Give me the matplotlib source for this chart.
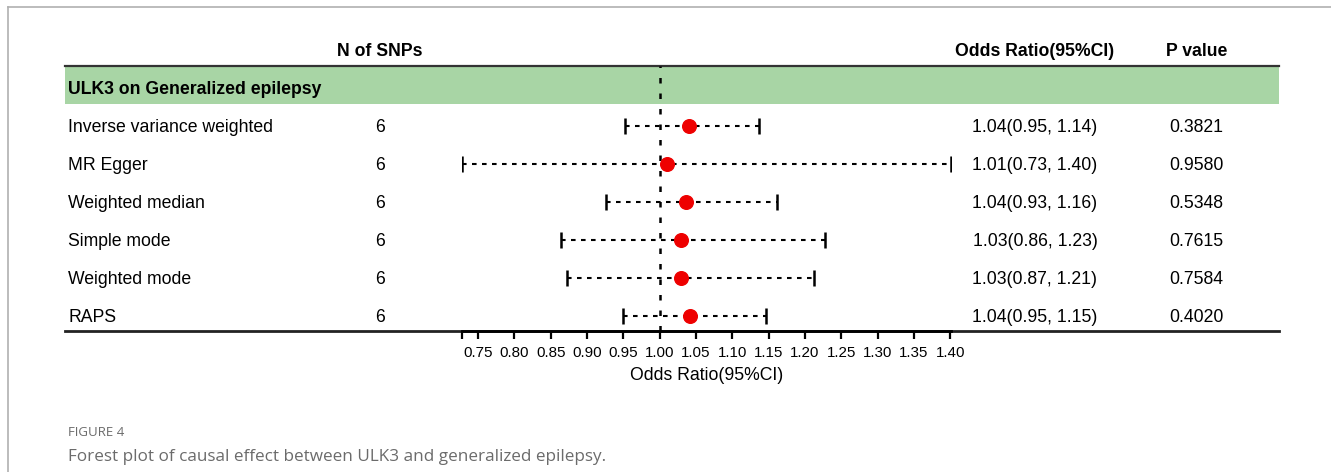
#!/usr/bin/env python3
import matplotlib

matplotlib.use("Agg")
import matplotlib.pyplot as plt
from matplotlib.lines import Line2D

# --- data ---
methods = [
    "Inverse variance weighted",
    "MR Egger",
    "Weighted median",
    "Simple mode",
    "Weighted mode",
    "RAPS",
]
n_snps = [6, 6, 6, 6, 6, 6]
or_est = [1.041, 1.010, 1.036, 1.030, 1.029, 1.042]
ci_low = [0.953, 0.728, 0.926, 0.864, 0.873, 0.949]
ci_high = [1.137, 1.401, 1.161, 1.227, 1.213, 1.146]
or_text = [
    "1.04(0.95, 1.14)",
    "1.01(0.73, 1.40)",
    "1.04(0.93, 1.16)",
    "1.03(0.86, 1.23)",
    "1.03(0.87, 1.21)",
    "1.04(0.95, 1.15)",
]
p_text = ["0.3821", "0.9580", "0.5348", "0.7615", "0.7584", "0.4020"]
xticks = [0.75, 0.80, 0.85, 0.90, 0.95, 1.00, 1.05, 1.10, 1.15, 1.20, 1.25, 1.30, 1.35, 1.40]
group_label = "ULK3 on Generalized epilepsy"

W, H = 1331, 472
FONT = "Liberation Sans"
FS = 12.7
GREEN = "#a8d5a5"
VA = "center_baseline"

fig = plt.figure(figsize=(W / 100, H / 100), dpi=100)
fig.patch.set_facecolor("white")

# vertical extent shared by table and forest axes (pixels from top)
top_px, bot_px = 66, 331
row0_px, row_gap = 126, 38
ylim = (1 + (bot_px - row0_px) / row_gap, 1 - (row0_px - top_px) / row_gap)
ax_bottom = 1 - bot_px / H
ax_height = (bot_px - top_px) / H

# table axes spanning full width
tab = fig.add_axes([65 / W, ax_bottom, (1279 - 65) / W, ax_height])
tab.set_xlim(0, 1)
tab.set_ylim(*ylim)
tab.axis("off")

band_bottom = 1 + (104 - row0_px) / row_gap
tab.axhspan(ylim[1], band_bottom, color=GREEN, lw=0, zorder=0)
tab.axhline(ylim[1], color="#333333", lw=1.6, zorder=2, clip_on=False)
tab.axhline(ylim[0], color="#222222", lw=2.0, zorder=2, clip_on=False)

col_label, col_n, col_or, col_p = 0.0025, 0.2595, 0.799, 0.932
y_head = 1 + (49 - row0_px) / row_gap
y_group = 1 + (87 - row0_px) / row_gap

for x, s in [(col_n, "N of SNPs"), (col_or, "Odds Ratio(95%CI)"), (col_p, "P value")]:
    tab.text(x, y_head, s, ha="center", va=VA, fontsize=FS,
             fontweight="bold", family=FONT, clip_on=False)
tab.text(col_label, y_group, group_label, ha="left", va=VA, fontsize=FS,
         fontweight="bold", family=FONT)

rows = list(range(1, len(methods) + 1))
for y, m, n, o, p in zip(rows, methods, n_snps, or_text, p_text):
    tab.text(col_label, y, m, ha="left", va=VA, fontsize=FS, family=FONT)
    tab.text(col_n, y, str(n), ha="center", va=VA, fontsize=FS, family=FONT)
    tab.text(col_or, y, o, ha="center", va=VA, fontsize=FS, family=FONT)
    tab.text(col_p, y, p, ha="center", va=VA, fontsize=FS, family=FONT)

# forest axes
xmin, xmax = min(ci_low), max(ci_high)
left_px, right_px = 462, 951
ax = fig.add_axes([left_px / W, ax_bottom, (right_px - left_px) / W, ax_height])
ax.patch.set_alpha(0)
ax.set_xlim(xmin, xmax)
ax.set_ylim(*ylim)

ax.axvline(1.0, color="black", lw=1.8, ls=(0, (2.2, 4)), zorder=1)
ax.hlines(rows, ci_low, ci_high, colors="black", lw=1.5, linestyles=(0, (2.2, 2.6)), zorder=2)
ax.plot(ci_low, rows, ls="none", marker="|", ms=12, mew=1.8, color="black", zorder=3)
ax.plot(ci_high, rows, ls="none", marker="|", ms=12, mew=1.8, color="black", zorder=3)
ax.plot(or_est, rows, ls="none", marker="o", ms=9.8, color="#ee0000", mec="#ee0000", zorder=4)

for side in ["top", "right", "left"]:
    ax.spines[side].set_visible(False)
ax.spines["bottom"].set_linewidth(2.0)
ax.set_yticks([])
ax.set_xticks([xmin] + xticks)
ax.set_xticklabels([""] + [f"{t:.2f}" for t in xticks], family=FONT, fontsize=10.9)
ax.tick_params(axis="x", direction="out", length=6, width=1.6, pad=5)
ax.set_xlabel("Odds Ratio(95%CI)", family=FONT, fontsize=FS, labelpad=5)

# page frame and caption
fig.add_artist(Line2D([8 / W, 1], [1 - 7 / H, 1 - 7 / H], color="#b0b0b0", lw=1.2))
fig.add_artist(Line2D([8 / W, 8 / W], [0, 1 - 7 / H], color="#b0b0b0", lw=1.2))
fig.text(68 / W, 1 - 432 / H, "FIGURE 4", ha="left", va="center", fontsize=9.5,
         family="Open Sans", color="#6b6b6b")
fig.text(68 / W, 1 - 457 / H, "Forest plot of causal effect between ULK3 and generalized epilepsy.",
         ha="left", va="center", fontsize=12.3, family="Open Sans", color="#6b6b6b")

fig.savefig("out.png", dpi=100)
